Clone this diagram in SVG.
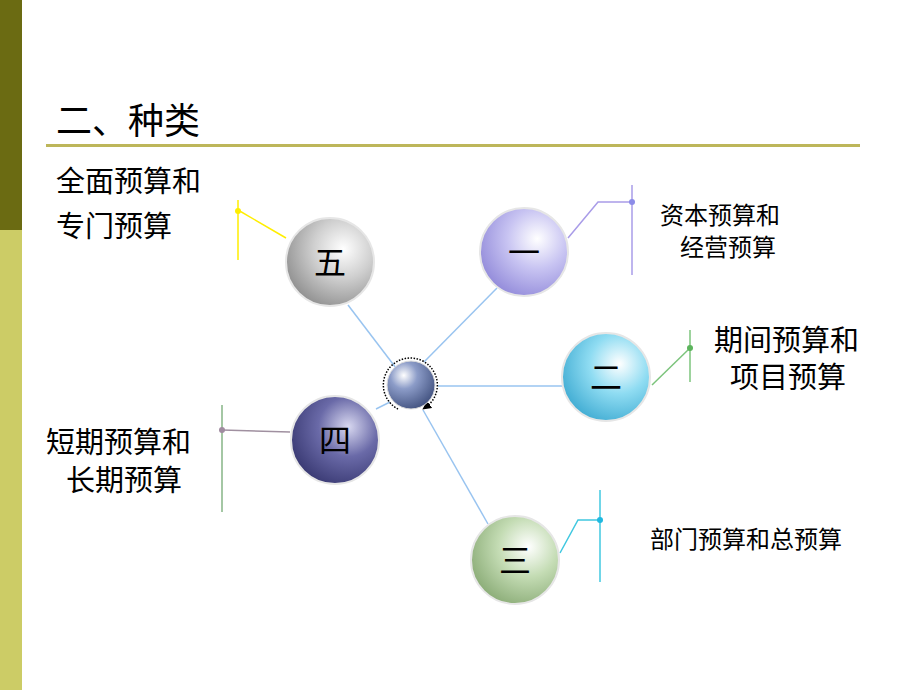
<svg xmlns="http://www.w3.org/2000/svg" width="920" height="690" viewBox="0 0 920 690">
<defs>
<radialGradient id="gGray" cx="0.65" cy="0.35" r="0.75"><stop offset="0" stop-color="#ffffff"/><stop offset="0.45" stop-color="#cfcfcf"/><stop offset="1" stop-color="#8a8a8a"/></radialGradient>
<radialGradient id="gPurple" cx="0.65" cy="0.35" r="0.75"><stop offset="0" stop-color="#ffffff"/><stop offset="0.45" stop-color="#c8c4f2"/><stop offset="1" stop-color="#8e86d8"/></radialGradient>
<radialGradient id="gCyan" cx="0.65" cy="0.35" r="0.75"><stop offset="0" stop-color="#ffffff"/><stop offset="0.45" stop-color="#8fdcf2"/><stop offset="1" stop-color="#3aa8d0"/></radialGradient>
<radialGradient id="gNavy" cx="0.65" cy="0.35" r="0.75"><stop offset="0" stop-color="#d8d8f0"/><stop offset="0.45" stop-color="#6a6aa8"/><stop offset="1" stop-color="#35356e"/></radialGradient>
<radialGradient id="gGreen" cx="0.65" cy="0.35" r="0.75"><stop offset="0" stop-color="#ffffff"/><stop offset="0.45" stop-color="#c4dcb4"/><stop offset="1" stop-color="#86a872"/></radialGradient>
<radialGradient id="gCenter" cx="0.35" cy="0.3" r="0.8"><stop offset="0" stop-color="#ffffff"/><stop offset="0.35" stop-color="#8c9cc8"/><stop offset="1" stop-color="#3a4a78"/></radialGradient>
<marker id="arr" markerWidth="6" markerHeight="6" refX="3" refY="3" orient="auto"><path d="M0,0L6,3L0,6z" fill="#000"/></marker>
</defs>
<style>
.t{font-family:"Noto Sans CJK SC","Liberation Sans",sans-serif;fill:#000}
.lbl{font-size:29px}
.sm{font-size:24px}
.num{font-size:32px;text-anchor:middle;font-family:"Noto Sans CJK SC",serif}
.sph{stroke:#e6e6e6;stroke-width:2}
.c{fill:none;stroke:#99c4f0;stroke-width:1.5}
</style>
<rect x="0" y="0" width="22" height="230" fill="#6b6b12"/>
<rect x="0" y="230" width="22" height="460" fill="#cccc66"/>
<text class="t" x="56" y="134" font-size="36">二、种类</text>
<rect x="46" y="144" width="814" height="3" fill="#bdb65a"/>
<g id="connectors">
<line class="c" x1="348" y1="305" x2="396" y2="368"/>
<line class="c" x1="497" y1="288" x2="424" y2="362"/>
<line class="c" x1="562" y1="386" x2="438" y2="386"/>
<line class="c" x1="376" y1="409" x2="390" y2="402"/>
<line class="c" x1="488" y1="524" x2="423" y2="410"/>
<polyline fill="none" stroke="#ffee00" stroke-width="1.5" points="286,238 238,210"/>
<line x1="238" y1="200" x2="238" y2="260" stroke="#ffee00" stroke-width="1.5"/>
<circle cx="238" cy="211" r="3" fill="#ffee00"/>
<polyline fill="none" stroke="#a99ce8" stroke-width="1.5" points="568,238 598,202 632,202"/>
<line x1="632" y1="185" x2="632" y2="275" stroke="#a99ce8" stroke-width="1.5"/>
<circle cx="632" cy="202" r="3" fill="#8c8ce8"/>
<polyline fill="none" stroke="#7cc47c" stroke-width="1.5" points="652,385 690,348"/>
<line x1="690" y1="330" x2="690" y2="382" stroke="#7cc47c" stroke-width="1.5"/>
<circle cx="690" cy="348" r="3" fill="#5cb45c"/>
<polyline fill="none" stroke="#a090a0" stroke-width="1.5" points="290,432 222,430"/>
<line x1="222" y1="405" x2="222" y2="512" stroke="#86b486" stroke-width="1.5"/>
<circle cx="222" cy="430" r="3" fill="#a08ca0"/>
<polyline fill="none" stroke="#40c8e0" stroke-width="1.5" points="560,553 578,520 600,520"/>
<line x1="600" y1="490" x2="600" y2="582" stroke="#40c8e0" stroke-width="1.5"/>
<circle cx="600" cy="520" r="3" fill="#20b8e0"/>
</g>
<g id="center">
<path d="M 398 409 A 27 27 0 1 1 426 407" fill="none" stroke="#000" stroke-width="1.5" stroke-dasharray="1.5 1.5" marker-end="url(#arr)"/>
<circle cx="411" cy="385" r="24" fill="url(#gCenter)" stroke="#ddd"/>
</g>
<g id="n5"><circle class="sph" cx="330" cy="262" r="44" fill="url(#gGray)"/><text class="num" x="330" y="274">五</text></g>
<g id="n1"><circle class="sph" cx="524" cy="252" r="44" fill="url(#gPurple)"/><text class="num" x="524" y="264">一</text></g>
<g id="n2"><circle class="sph" cx="606" cy="377" r="44" fill="url(#gCyan)"/><text class="num" x="606" y="389">二</text></g>
<g id="n4"><circle class="sph" cx="335" cy="440" r="44" fill="url(#gNavy)"/><text class="num" x="335" y="452">四</text></g>
<g id="n3"><circle class="sph" cx="515" cy="560" r="44" fill="url(#gGreen)"/><text class="num" x="515" y="572">三</text></g>
<g id="labels">
<text class="t lbl" x="56" y="192">全面预算和</text>
<text class="t lbl" x="56" y="237">专门预算</text>
<text class="t sm" x="660" y="224">资本预算和</text>
<text class="t sm" x="680" y="256">经营预算</text>
<text class="t lbl" x="714" y="351">期间预算和</text>
<text class="t lbl" x="730" y="388">项目预算</text>
<text class="t lbl" x="46" y="453">短期预算和</text>
<text class="t lbl" x="66" y="491">长期预算</text>
<text class="t sm" x="650" y="548">部门预算和总预算</text>
</g>
</svg>
